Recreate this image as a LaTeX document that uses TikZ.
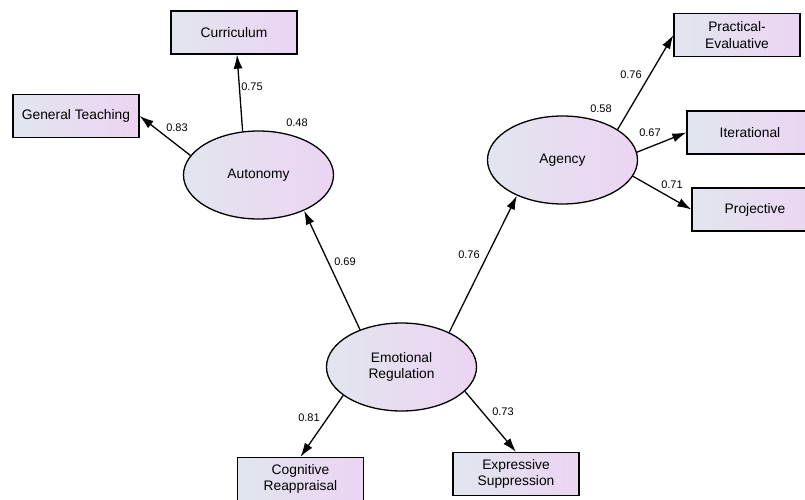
\documentclass[tikz,border=0pt]{standalone}
\usepackage{fontspec}
\setmainfont{Liberation Sans}
\usetikzlibrary{shapes.geometric,arrows.meta}
\definecolor{shadeL}{RGB}{225,230,238}
\definecolor{shadeR}{RGB}{236,212,243}

\begin{document}
\begin{tikzpicture}[x=1pt,y=-1pt,
	box/.style={draw,line width=1.3pt,left color=shadeL,right color=shadeR,minimum width=126pt,minimum height=43pt,inner sep=0pt,align=center,font=\fontsize{13.8}{16.5}\selectfont},
	latent/.style={ellipse,draw,line width=1.3pt,left color=shadeL,right color=shadeR,minimum width=150pt,minimum height=88pt,inner sep=0pt,align=center,font=\fontsize{13.8}{16.5}\selectfont},
	coef/.style={font=\fontsize{11}{12}\selectfont,inner sep=0pt},
	path/.style={draw,line width=1.3pt,-{Latex[length=14pt,width=9pt]}}]
	\useasboundingbox (0,0) rectangle (805,500);

	% observed variables
	\node[box] (cur) at (234,32.5) {Curriculum};
	\node[box] (gt) at (76,116) {General Teaching};
	\node[box] (pe) at (737,35) {Practical-\\Evaluative};
	\node[box] (it) at (750,132.5) {Iterational};
	\node[box] (pr) at (755,209.5) {Projective};
	\node[box] (cog) at (300.5,479) {Cognitive\\Reappraisal};
	\node[box] (exp) at (516,474) {Expressive\\Suppression};

	% latent variables
	\node[latent] (aut) at (258.5,175) {Autonomy};
	\node[latent] (ag) at (562.5,160) {Agency};
	\node[latent] (er) at (401.5,367) {Emotional\\Regulation};

	\draw[path] (er.138) -- (aut.-38);
	\draw[path] (er.36) -- (ag.218);
	\draw[path] (er.206) -- (cog.north);
	\draw[path] (er.-21) -- (exp.north);
	\draw[path] (aut.110) -- ([xshift=3pt]cur.south);
	\draw[path] (aut.164) -- (gt.east);
	\draw[path] (ag.29) -- (pe.west);
	\draw[path] (ag.6) -- (it.west);
	\draw[path] (ag.-13) -- (pr.west);

	% estimates
	\node[coef] (w1) at (345,262) {0.69};
	\node[coef] (w2) at (469,255) {0.76};
	\node[coef] (w3) at (309,418) {0.81};
	\node[coef] (w4) at (503,412) {0.73};
	\node[coef] (w5) at (252,87) {0.75};
	\node[coef] (w6) at (177,128) {0.83};
	\node[coef] (w7) at (631,75) {0.76};
	\node[coef] (w8) at (650,133) {0.67};
	\node[coef] (w9) at (672,185) {0.71};
	\node[coef] (r1) at (297,123) {0.48};
	\node[coef] (r2) at (601,109) {0.58};
\end{tikzpicture}
\end{document}
